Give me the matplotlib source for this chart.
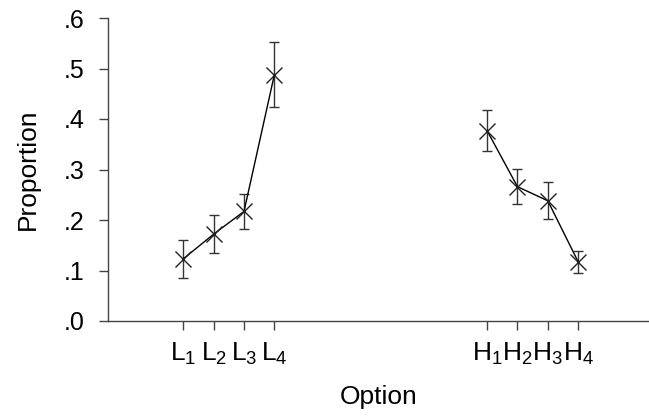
import matplotlib
matplotlib.use("Agg")
import matplotlib.pyplot as plt

plt.rcParams['font.family'] = ['Liberation Sans', 'DejaVu Sans']
plt.rcParams['mathtext.fontset'] = 'custom'
plt.rcParams['mathtext.rm'] = 'Liberation Sans'
plt.rcParams['mathtext.it'] = 'Liberation Sans:italic'

# Data
low_labels = [r'L$_1$', r'L$_2$', r'L$_3$', r'L$_4$']
high_labels = [r'H$_1$', r'H$_2$', r'H$_3$', r'H$_4$']
low_pos = [1, 2, 3, 4]
high_pos = [11, 12, 13, 14]
low_vals = [0.123, 0.172, 0.217, 0.488]
low_err = [0.037, 0.037, 0.035, 0.064]
high_vals = [0.377, 0.266, 0.238, 0.117]
high_err = [0.040, 0.035, 0.037, 0.021]
y_ticks = [0.0, 0.1, 0.2, 0.3, 0.4, 0.5, 0.6]
y_ticklabels = ['.0', '.1', '.2', '.3', '.4', '.5', '.6']

fig = plt.figure(figsize=(6.49, 4.16), dpi=100)
ax = fig.add_axes([108/649, 1 - 321/416, 541/649, (321 - 18)/416])

for pos, vals, err in [(low_pos, low_vals, low_err), (high_pos, high_vals, high_err)]:
    ax.errorbar(pos, vals, yerr=err, fmt='none', ecolor='#333333', elinewidth=1.0,
                capsize=3.6, capthick=1.0, zorder=2)
    ax.plot(pos, vals, color='black', linewidth=1.0, marker='x', markersize=12,
            markeredgewidth=1.0, markeredgecolor='#222222', zorder=3)

ax.set_xlim(-1.477, 16.33)
ax.set_ylim(0, 0.6)
ax.set_xticks(low_pos + high_pos)
ax.set_xticklabels(low_labels + high_labels, fontsize=19)
ax.set_yticks(y_ticks)
ax.set_yticklabels(y_ticklabels, fontsize=18)

for s in ['top', 'right']:
    ax.spines[s].set_visible(False)
for s in ['left', 'bottom']:
    ax.spines[s].set_color('#444444')
    ax.spines[s].set_linewidth(1.0)
ax.spines['left'].set_bounds(0, 0.6)
ax.tick_params(axis='both', color='#444444', width=1.0, length=6.5)
ax.tick_params(axis='y', pad=10.5)
ax.tick_params(axis='x', pad=8)

ax.set_xlabel('Option', fontsize=19, labelpad=13)
ax.set_ylabel('Proportion', fontsize=19, labelpad=17)

fig.savefig('out.png', dpi=100)
